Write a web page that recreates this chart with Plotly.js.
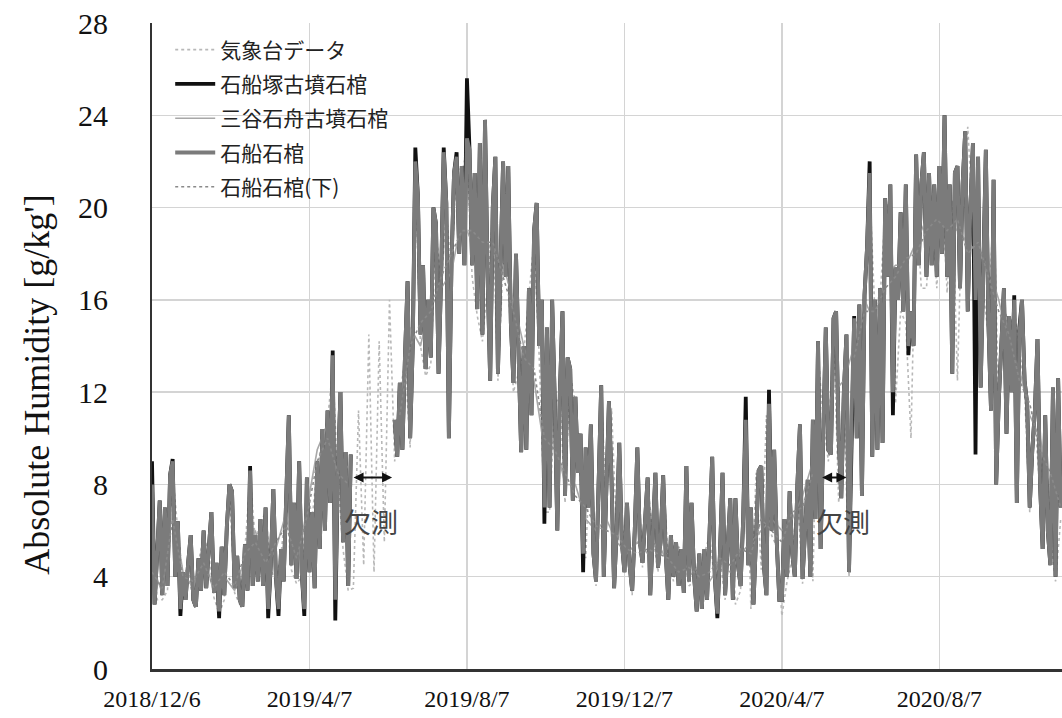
<!DOCTYPE html>
<html>
<head>
<meta charset="utf-8">
<script src="https://cdn.plot.ly/plotly-3.0.1.min.js"></script>
<style>html,body{margin:0;padding:0;background:#fff;}#chart{width:1062px;height:718px;}</style>
</head>
<body>
<div id="chart"></div>
<script>
// ---- data (absolute humidity, g/kg') ----
const startDate = '2018-12-06';
const tickDates = ['2018-12-06','2019-04-07','2019-08-07','2019-12-07','2020-04-07','2020-08-07'];
const tickLabels = ['2018/12/6','2019/4/7','2019/8/7','2019/12/7','2020/4/7','2020/8/7'];
const seriesNames = ['気象台データ','石船塚古墳石棺','三谷石舟古墳石棺','石船石棺','石船石棺(下)'];
const yTitle = "Absolute Humidity [g/kg']";

// 石船石棺 : every 2 days
const ishifuneSekkan = [
8.0,2.8,5.0,7.3,3.2,7.0,3.6,8.4,9.0,4.0,6.4,2.6,4.2,3.0,4.6,
5.8,3.0,2.7,4.8,3.4,6.0,3.5,5.2,6.8,3.3,4.6,2.5,5.3,3.2,6.2,
8.0,7.7,3.5,4.9,3.0,2.7,5.4,3.4,8.6,3.6,5.8,3.8,6.5,3.6,7.0,
2.6,4.5,7.8,4.0,2.6,5.2,3.8,7.5,11.0,4.5,7.2,3.9,9.0,4.2,2.6,
8.3,4.2,6.8,3.5,9.0,5.2,10.4,6.0,11.2,7.2,13.6,3.0,8.5,12.0,5.5,
9.4,3.6,9.3,null,null,null,null,null,null,null,null,null,null,null,null,
null,null,null,null,10.8,9.2,12.4,9.5,13.6,16.8,10.0,14.0,22.0,20.5,14.5,
17.5,13.0,16.0,13.5,20.0,19.3,12.8,17.0,22.4,20.2,10.0,17.5,21.5,22.2,18.0,
21.8,17.5,23.0,22.5,17.5,21.5,15.6,22.8,14.5,23.8,17.0,12.5,20.0,22.2,12.8,
18.0,22.0,17.0,21.8,15.0,12.4,18.0,13.0,9.4,14.0,9.5,16.5,11.0,19.0,20.2,
14.0,16.0,7.0,14.8,7.0,16.0,11.7,6.0,12.0,15.5,7.5,13.5,13.0,7.3,11.8,
8.5,10.2,5.0,9.6,7.0,10.6,5.0,3.8,9.0,12.3,4.0,7.5,11.6,8.2,3.5,
6.0,9.8,5.5,4.2,7.2,4.5,3.4,6.0,9.6,5.5,4.6,6.5,8.3,3.2,6.0,
8.5,4.4,5.5,8.4,5.0,3.0,5.8,4.0,5.5,3.6,5.2,3.3,8.8,3.8,7.2,
4.0,2.5,5.0,2.6,5.2,3.0,6.0,9.2,4.0,2.4,5.0,8.5,3.2,5.5,7.4,
3.0,7.4,4.5,3.6,6.5,10.8,4.5,7.0,2.8,6.0,8.6,8.8,4.5,3.2,11.5,
6.0,9.5,5.5,3.0,3.0,6.5,4.0,7.7,5.0,4.0,8.0,10.6,3.9,6.0,8.2,
4.0,10.8,6.5,14.2,5.2,11.0,14.8,9.5,9.3,15.2,15.5,10.0,7.4,12.0,14.5,
4.2,11.0,15.2,10.0,15.8,7.5,16.2,18.3,21.5,9.2,16.0,9.5,16.5,9.8,20.4,
17.0,21.0,12.0,17.4,16.0,19.8,15.5,21.0,14.0,15.5,14.0,22.3,17.5,21.0,22.4,
17.0,21.5,17.5,21.0,17.0,21.8,18.0,24.0,17.0,21.0,12.8,21.5,21.8,16.5,21.0,
23.3,15.5,20.0,22.8,16.0,22.2,12.2,17.0,22.5,15.0,11.2,21.2,8.0,11.6,14.5,
16.5,10.2,15.3,12.0,16.0,7.2,14.5,16.0,12.5,11.5,7.0,9.5,11.2,14.3,8.0,
5.2,11.0,6.0,4.5,12.2,4.0,12.6,7.0
];

// 石船塚古墳石棺 : every 2 days
const ishifunezukaSekkan = [
9.0,2.8,5.0,7.3,3.2,7.0,3.6,8.4,9.1,4.0,6.4,2.3,4.2,3.0,4.6,
5.8,3.0,2.7,4.8,3.4,6.0,3.5,5.2,6.8,3.3,4.6,2.2,5.3,3.2,6.2,
8.0,7.7,3.5,4.9,3.0,2.7,5.4,3.4,8.8,3.6,5.8,3.8,6.5,3.6,7.0,
2.2,4.5,7.8,4.0,2.3,5.2,3.8,7.5,11.0,4.5,7.2,3.9,9.0,4.2,2.3,
8.3,4.2,6.8,3.5,9.0,5.2,10.4,6.0,11.2,7.2,13.8,2.1,8.5,12.0,5.5,
9.4,3.6,9.3,null,null,null,null,null,null,null,null,null,null,null,null,
null,null,null,null,10.8,9.2,12.4,9.5,13.6,16.8,10.0,14.0,22.6,20.5,14.5,
17.5,13.0,16.0,13.5,20.0,19.3,12.8,17.0,22.6,20.2,10.0,17.5,21.5,22.4,18.0,
21.8,17.5,25.6,22.5,17.5,21.5,15.6,22.8,14.5,23.8,17.0,12.5,20.0,22.2,12.8,
18.0,22.0,17.0,21.8,15.0,12.4,18.0,13.0,9.4,14.0,9.5,16.5,11.0,19.0,20.2,
14.0,16.0,6.3,14.8,7.0,16.0,11.7,6.0,12.0,15.5,7.5,13.5,13.0,7.3,11.8,
8.5,10.2,4.2,9.6,7.0,10.6,5.0,3.8,9.0,12.3,4.0,7.5,11.6,8.2,3.5,
6.0,9.8,5.5,4.2,7.2,4.5,3.4,6.0,9.6,5.5,4.6,6.5,8.3,3.2,6.0,
8.5,4.4,5.5,8.4,5.0,3.0,5.8,4.0,5.5,3.6,5.2,3.3,8.8,3.8,7.2,
4.0,2.5,5.0,2.6,5.2,3.0,6.0,9.2,4.0,2.2,5.0,8.5,3.2,5.5,7.4,
3.0,7.4,4.5,3.6,6.5,11.8,4.5,7.0,2.8,6.0,8.6,8.8,4.5,3.2,12.1,
6.0,9.5,5.5,3.0,3.0,6.5,4.0,7.7,5.0,4.0,8.0,10.6,3.9,6.0,8.2,
4.0,10.8,6.5,14.2,5.2,11.0,14.8,9.5,9.3,15.2,15.5,10.0,7.4,12.0,14.5,
4.2,11.0,15.3,10.0,15.8,7.5,16.2,18.3,22.0,9.2,16.0,9.5,16.5,9.8,20.4,
17.0,21.0,11.0,17.4,16.0,19.8,15.5,21.0,13.6,15.5,14.0,22.3,17.5,21.0,22.4,
17.0,21.5,17.5,21.0,17.0,21.8,18.0,24.0,17.0,21.0,12.8,21.5,21.8,16.5,21.0,
23.3,15.5,20.0,22.8,9.3,22.2,12.2,17.0,22.5,15.0,11.2,21.2,8.0,11.6,14.5,
16.5,10.2,15.3,12.0,16.2,7.2,14.8,16.0,12.5,11.5,7.0,9.5,11.2,14.3,8.0,
5.2,11.0,6.0,4.5,12.2,4.0,12.6,7.0
];

// 気象台データ : every 4 days
const kishodaiData = [
7.5,3.0,3.0,3.4,8.5,6.0,4.0,4.4,2.8,4.6,5.8,5.0,3.1,2.4,3.0,
7.8,3.3,2.8,5.2,8.3,5.6,6.3,6.8,4.3,3.8,5.0,7.2,4.3,3.7,4.0,
8.0,6.5,8.7,10.0,10.8,13.0,8.2,5.2,3.4,3.5,11.2,4.5,14.5,4.2,14.2,
5.5,16.0,9.0,12.0,13.3,9.6,21.5,14.0,12.7,13.2,19.0,16.7,19.8,17.2,21.8,
21.5,22.5,17.0,15.3,14.2,16.7,19.6,12.5,17.6,16.7,12.0,12.8,13.7,16.2,18.6,
13.5,6.8,6.8,11.5,11.8,7.2,12.8,11.5,8.2,4.8,10.3,3.6,11.8,7.3,11.3,
5.8,5.3,7.0,3.2,9.3,4.4,8.0,5.8,4.2,8.2,4.8,3.8,5.3,5.0,3.6,
3.8,4.8,5.0,5.8,3.8,4.8,3.0,7.2,2.8,3.4,10.5,2.6,8.5,4.3,11.0,
5.8,5.3,2.3,3.8,4.8,7.7,3.7,7.9,3.8,13.8,10.7,9.0,14.8,7.2,11.6,
4.0,14.8,15.4,15.7,20.8,15.5,16.0,19.8,20.4,11.5,15.5,15.0,10.0,20.3,16.5,
16.5,20.2,16.5,21.0,16.3,20.3,12.5,21.0,23.5,19.3,15.3,16.3,14.5,20.5,11.2,
15.8,14.7,15.5,14.0,12.0,6.8,10.8,7.7,10.6,5.7,3.8,6.5
];

// 三谷石舟古墳石棺 : every 8 days
const mitaniSekkan = [
4.5,3.3,7.0,4.2,3.5,5.0,3.3,4.0,3.4,4.8,6.0,4.4,5.2,6.8,4.4,
7.0,9.5,10.6,8.2,8.8,null,null,null,null,11.5,14.8,14.0,16.0,16.5,17.2,
19.5,18.5,19.0,18.0,17.5,16.0,14.0,12.5,9.5,10.0,8.0,8.0,6.5,6.0,6.5,
5.5,5.0,5.5,5.0,5.5,4.5,4.5,4.0,4.5,3.8,4.5,4.2,5.0,5.5,6.0,
6.5,6.0,6.5,7.5,9.0,11.0,12.0,12.5,14.0,16.0,15.0,17.0,17.5,17.5,18.5,
19.5,19.0,19.5,19.0,18.5,18.0,17.5,16.0,14.0,13.0,11.0,10.0,8.0,7.5
];

// 石船石棺(下) : every 8 days
const ishifuneShita = [
4.2,3.5,6.5,4.0,3.8,4.6,3.5,4.2,3.6,5.0,5.5,4.6,5.5,6.2,4.8,
6.6,9.0,10.0,8.5,8.0,null,null,null,null,11.0,14.0,15.0,15.5,17.0,18.0,
19.0,19.0,18.5,18.5,17.0,15.5,13.5,13.0,10.0,9.5,8.5,7.5,7.0,6.2,6.0,
5.8,5.2,5.0,5.2,5.0,4.8,4.2,4.4,4.0,4.2,4.8,4.5,5.2,5.0,6.5,
6.0,5.5,6.8,7.0,8.5,null,null,null,13.5,15.5,15.5,16.5,17.0,17.8,18.0,
19.0,19.5,19.0,19.5,18.0,18.5,17.0,15.5,14.5,12.5,11.5,9.5,8.5,7.0
];

// ---- helpers ----
function datesEvery(stepDays, n) {
  const p = startDate.split('-').map(Number);
  const t0 = Date.UTC(p[0], p[1] - 1, p[2]);
  const out = [];
  for (let i = 0; i < n; i++) out.push(new Date(t0 + i * stepDays * 86400000).toISOString().slice(0, 10));
  return out;
}

const traces = [
  {name: seriesNames[0], x: datesEvery(4, kishodaiData.length), y: kishodaiData,
   line: {color: '#b8b8b8', width: 1.6, dash: 'dot'}},
  {name: seriesNames[1], x: datesEvery(2, ishifunezukaSekkan.length), y: ishifunezukaSekkan,
   line: {color: '#111111', width: 3.8}},
  {name: seriesNames[2], x: datesEvery(8, mitaniSekkan.length), y: mitaniSekkan,
   line: {color: '#a8a8a8', width: 1.6}},
  {name: seriesNames[3], x: datesEvery(2, ishifuneSekkan.length), y: ishifuneSekkan,
   line: {color: '#7b7b7b', width: 3.8}},
  {name: seriesNames[4], x: datesEvery(8, ishifuneShita.length), y: ishifuneShita,
   line: {color: '#8a8a8a', width: 1.6, dash: 'dot'}}
].map((t, i) => Object.assign({type: 'scatter', mode: 'lines', connectgaps: false, hoverinfo: 'skip',
                               legendgroup: 'g' + i}, t));

const serif = 'Liberation Serif, Times New Roman, serif';
const cjk = 'Noto Sans CJK JP, Noto Sans, sans-serif';

const layout = {
  width: 1062, height: 718,
  margin: {l: 152, r: 0, t: 23, b: 49},
  paper_bgcolor: '#ffffff', plot_bgcolor: '#ffffff',
  showlegend: true,
  legend: {x: 0.02, y: 0.99, xanchor: 'left', yanchor: 'top', bgcolor: 'rgba(0,0,0,0)',
           traceorder: 'grouped', tracegroupgap: 4,
           font: {family: cjk, size: 21, color: '#222'}, itemwidth: 40},
  xaxis: {type: 'date', range: ['2018-12-06', '2020-11-10'],
          tickmode: 'array', tickvals: tickDates, ticktext: tickLabels,
          showgrid: true, gridcolor: '#d4d4d4', gridwidth: 1.5,
          showline: true, linecolor: '#333', linewidth: 3, ticks: '',
          ticklabelstandoff: 6,
          tickfont: {family: serif, size: 24, color: '#111'}, zeroline: false},
  yaxis: {range: [0, 28], tickmode: 'linear', tick0: 0, dtick: 4,
          showgrid: true, gridcolor: '#d4d4d4', gridwidth: 1.5,
          showline: true, linecolor: '#333', linewidth: 2, ticks: '',
          ticklabelstandoff: 36, zeroline: false,
          tickfont: {family: serif, size: 30, color: '#111'}},
  annotations: [
    {x: -0.1264, y: 0.44, xref: 'paper', yref: 'paper', xanchor: 'center', yanchor: 'middle',
     text: yTitle, textangle: -90, showarrow: false,
     font: {family: serif, size: 36, color: '#111'}},
    {x: '2019-06-10', y: 8.3, ax: '2019-05-10', ay: 8.3, xref: 'x', yref: 'y', axref: 'x', ayref: 'y',
     text: '', showarrow: true, arrowhead: 2, arrowside: 'end+start', arrowsize: 1, arrowwidth: 2, arrowcolor: '#111'},
    {x: '2020-05-27', y: 8.3, ax: '2020-05-07', ay: 8.3, xref: 'x', yref: 'y', axref: 'x', ayref: 'y',
     text: '', showarrow: true, arrowhead: 2, arrowside: 'end+start', arrowsize: 1, arrowwidth: 2, arrowcolor: '#111'},
    {x: '2019-05-25', y: 6.4, xref: 'x', yref: 'y', text: '欠測', showarrow: false,
     font: {family: cjk, size: 27, color: '#444'}},
    {x: '2020-05-24', y: 6.4, xref: 'x', yref: 'y', text: '欠測', showarrow: false,
     font: {family: cjk, size: 27, color: '#444'}}
  ]
};

Plotly.newPlot('chart', traces, layout, {staticPlot: true, displayModeBar: false});
</script>
</body>
</html>
